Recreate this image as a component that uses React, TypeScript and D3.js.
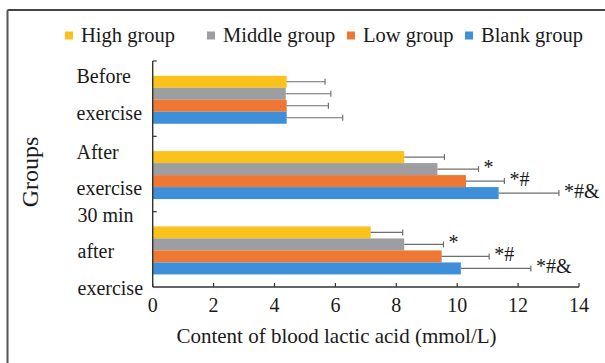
import { useMemo } from "react";
import * as d3 from "d3";

// categories on the y axis, one entry per text line
const categories = ["before", "after", "after30"];
const categoryLines = [
  ["Before", "exercise"],
  ["After", "exercise"],
  ["30 min", "after", "exercise"],
];

const seriesNames = ["High group", "Middle group", "Low group", "Blank group"];
const seriesColors = ["#fbc21b", "#9c9ea1", "#ee7733", "#3e8fd9"];

// mean values (mmol/L) per category
const highMeans = [4.4, 8.26, 7.16];
const middleMeans = [4.37, 9.35, 8.26];
const lowMeans = [4.4, 10.29, 9.49];
const blankMeans = [4.4, 11.36, 10.12];

// standard deviations
const highSd = [1.26, 1.32, 1.05];
const middleSd = [1.48, 1.35, 1.29];
const lowSd = [1.37, 1.26, 1.56];
const blankSd = [1.84, 1.98, 2.3];

// significance marks
const highSig = ["", "", ""];
const middleSig = ["", "*", "*"];
const lowSig = ["", "*#", "*#"];
const blankSig = ["", "*#&", "*#&"];

const xTicks = [0, 2, 4, 6, 8, 10, 12, 14];

const FONT = "'Liberation Serif', 'Times New Roman', serif";

export default function App() {
  const width = 605;
  const height = 363;
  const plot = { left: 152.7, right: 579, top: 61, bottom: 287 };

  const rows = useMemo(() => {
    const means = [highMeans, middleMeans, lowMeans, blankMeans];
    const sds = [highSd, middleSd, lowSd, blankSd];
    const sigs = [highSig, middleSig, lowSig, blankSig];
    return categories.flatMap((c, ci) =>
      seriesNames.map((s, si) => ({
        category: c,
        series: s,
        color: seriesColors[si],
        value: means[si][ci],
        sd: sds[si][ci],
        sig: sigs[si][ci],
      })),
    );
  }, []);

  const x = d3.scaleLinear().domain([0, 14]).range([plot.left, plot.right]);
  const y0 = d3
    .scaleBand()
    .domain(categories)
    .range([plot.top, plot.bottom])
    .padding(0);
  const y1 = d3
    .scaleBand()
    .domain(seriesNames)
    .range([0, y0.bandwidth()])
    .paddingInner(0)
    .paddingOuter(1.14)
    .align(0.54);

  const legendX = [65, 207, 347, 465];
  const lineGap = 36.7;

  return (
    <div style={{ position: "absolute", left: 0, top: 0 }}>
      <svg width={width} height={height} style={{ display: "block", background: "#fff" }} fontFamily={FONT}>
        {/* frame */}
        <line x1={7.5} x2={605} y1={10} y2={10} stroke="#444" strokeWidth={1.8} />
        <line x1={7.5} x2={7.5} y1={10} y2={363} stroke="#555" strokeWidth={2} />

        {/* legend */}
        {seriesNames.map((s, i) => (
          <g key={s}>
            <rect x={legendX[i]} y={31.5} width={8} height={8} fill={seriesColors[i]} />
            <text x={legendX[i] + 16} y={41.5} fontSize={20.5} fill="#1a1a1a">
              {s}
            </text>
          </g>
        ))}

        {/* bars */}
        {rows.map((d) => {
          const yb = (y0(d.category) ?? 0) + (y1(d.series) ?? 0);
          return (
            <rect
              key={`${d.category}-${d.series}`}
              x={x(0)}
              y={yb}
              width={x(d.value) - x(0)}
              height={y1.bandwidth()}
              fill={d.color}
            />
          );
        })}

        {/* error bars and marks */}
        {rows.map((d) => {
          const yc = (y0(d.category) ?? 0) + (y1(d.series) ?? 0) + y1.bandwidth() / 2;
          const xe = x(d.value + d.sd);
          return (
            <g key={`e-${d.category}-${d.series}`}>
              <line x1={x(d.value)} x2={xe} y1={yc} y2={yc} stroke="#6e6e6e" strokeWidth={1.2} />
              <line x1={xe} x2={xe} y1={yc - 3} y2={yc + 3} stroke="#6e6e6e" strokeWidth={1.2} />
              {d.sig && (
                <text x={xe + 5} y={yc + 4.5} fontSize={20} fill="#1a1a1a">
                  {d.sig}
                </text>
              )}
            </g>
          );
        })}

        {/* axes */}
        <line x1={plot.left} x2={plot.left} y1={plot.top} y2={plot.bottom} stroke="#333" strokeWidth={1.4} />
        <line x1={plot.left} x2={plot.right} y1={plot.bottom} y2={plot.bottom} stroke="#333" strokeWidth={1.4} />
        {categories.map((c) => (
          <line
            key={`yt-${c}`}
            x1={plot.left}
            x2={plot.left + 4}
            y1={y0(c)}
            y2={y0(c)}
            stroke="#333"
            strokeWidth={1.2}
          />
        ))}
        {xTicks.map((t) => (
          <g key={`xt-${t}`}>
            <line x1={x(t)} x2={x(t)} y1={plot.bottom} y2={plot.bottom - 4} stroke="#333" strokeWidth={1.2} />
            <text x={x(t)} y={311.7} textAnchor="middle" fontSize={20} fill="#1a1a1a">
              {t}
            </text>
          </g>
        ))}

        {/* category labels */}
        {categories.map((c, ci) => {
          const lines = categoryLines[ci];
          const n = lines.length;
          const center = (y0(c) ?? 0) + y0.bandwidth() / 2;
          return lines.map((l, li) => (
            <text
              key={`cl-${c}-${li}`}
              x={ci === 2 ? 77.5 : 76.5}
              y={center + 3 + (n - 2) * 6 + (li - (n - 1) / 2) * lineGap}
              fontSize={20}
              fill="#1a1a1a"
            >
              {l}
            </text>
          ));
        })}

        {/* axis titles */}
        <text x={336.5} y={343} textAnchor="middle" fontSize={21} fill="#1a1a1a">
          Content of blood lactic acid (mmol/L)
        </text>
        <text
          transform="translate(38,172) rotate(-90)"
          textAnchor="middle"
          fontSize={24}
          fill="#1a1a1a"
        >
          Groups
        </text>
      </svg>
    </div>
  );
}
